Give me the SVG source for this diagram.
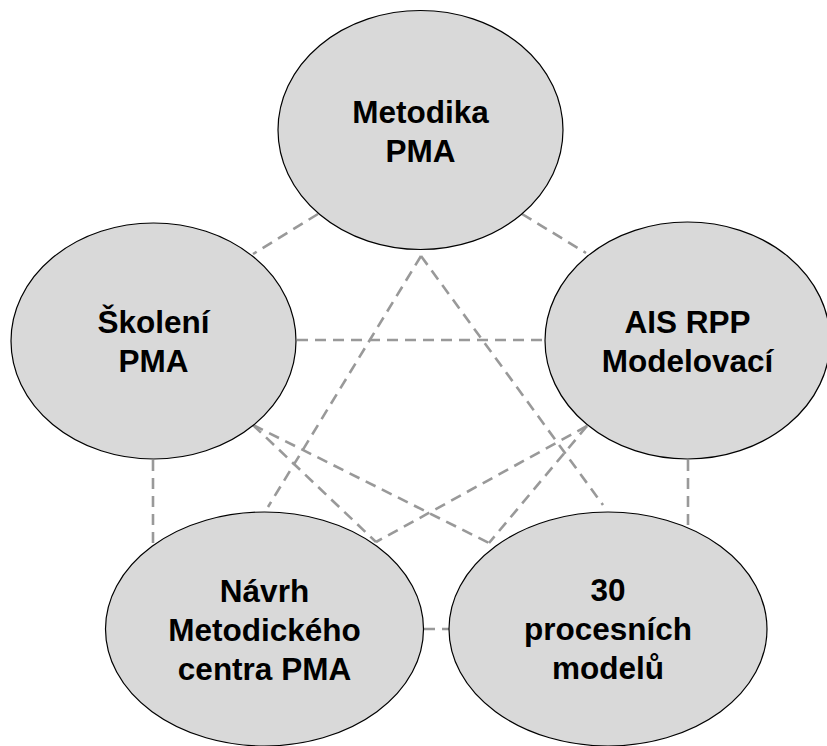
<svg xmlns="http://www.w3.org/2000/svg" width="827" height="746" viewBox="0 0 827 746">
<style>
.n ellipse{fill:#d9d9d9;stroke:#000;stroke-width:1.2}
.n text{font-family:"Liberation Sans",Arial,sans-serif;font-weight:bold;font-size:31.5px;fill:#000;text-anchor:middle}
.c line{stroke:#999;stroke-width:2.6;stroke-dasharray:11 7;fill:none}
</style>
<rect width="827" height="746" fill="#fff"/>
<g id="connectors" class="c">
<line x1="318" y1="214" x2="253" y2="254"/>
<line x1="522" y1="214" x2="586" y2="253"/>
<line x1="297" y1="340" x2="546" y2="340"/>
<line x1="153" y1="460" x2="153" y2="545"/>
<line x1="688" y1="460" x2="688" y2="527"/>
<line x1="424" y1="629" x2="449" y2="629"/>
<line x1="421" y1="256" x2="268" y2="507"/>
<line x1="421" y1="256" x2="603" y2="505"/>
<line x1="253" y1="425" x2="489" y2="543"/>
<line x1="587" y1="426" x2="376" y2="542"/>
<line x1="253" y1="425" x2="376" y2="542"/>
<line x1="587" y1="426" x2="489" y2="543"/>
</g>
<g id="metodika" class="n">
<ellipse cx="420.5" cy="130" rx="142.5" ry="119.5"/>
<text x="420.5" y="123.3">Metodika</text>
<text x="420.5" y="161.7">PMA</text>
</g>
<g id="skoleni" class="n">
<ellipse cx="153.5" cy="341" rx="142.5" ry="118"/>
<text x="153.5" y="333.3">Školení</text>
<text x="153.5" y="371.7">PMA</text>
</g>
<g id="ais" class="n">
<ellipse cx="687.5" cy="340.5" rx="142.5" ry="118.5"/>
<text x="687.5" y="333.3">AIS RPP</text>
<text x="687.5" y="371.7">Modelovací</text>
</g>
<g id="navrh" class="n">
<ellipse cx="264.5" cy="629" rx="159" ry="117"/>
<text x="264.5" y="602">Návrh</text>
<text x="264.5" y="641">Metodického</text>
<text x="264.5" y="679.5">centra PMA</text>
</g>
<g id="modely" class="n">
<ellipse cx="608" cy="629" rx="159" ry="117"/>
<text x="608" y="600.5">30</text>
<text x="608" y="640">procesních</text>
<text x="608" y="678.5">modelů</text>
</g>
</svg>
